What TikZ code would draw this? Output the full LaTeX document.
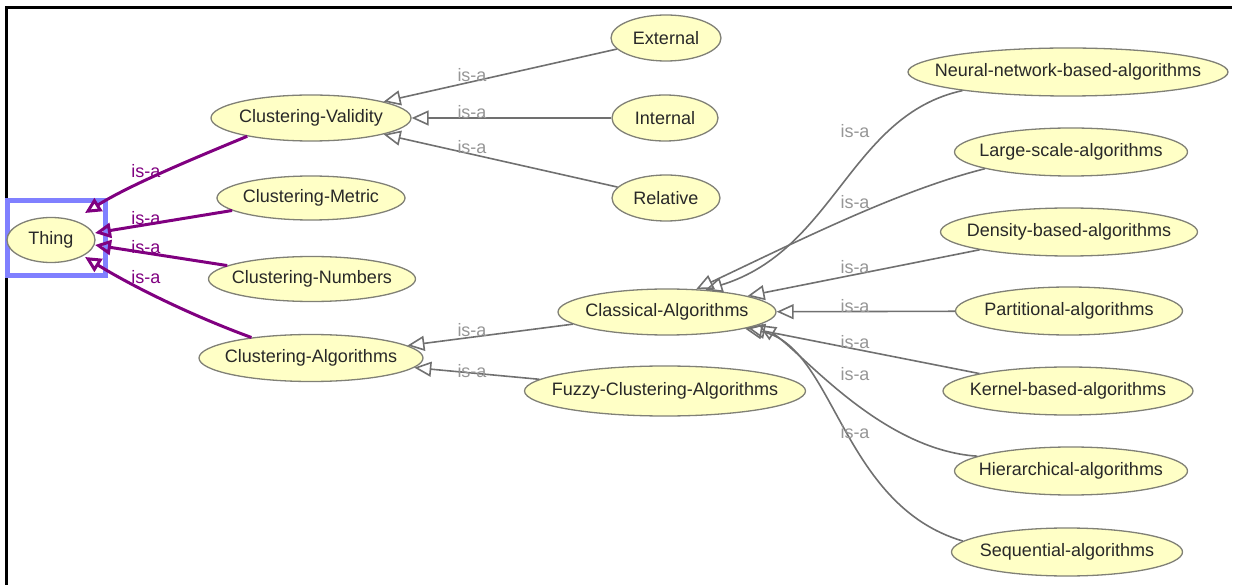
\documentclass[tikz,border=0pt]{standalone}
\usepackage{fontspec}
\setmainfont{Liberation Sans}
\usetikzlibrary{shapes.geometric,arrows.meta}
\definecolor{nodefill}{RGB}{255,255,198}
\definecolor{nodeline}{RGB}{128,128,118}
\definecolor{edgegray}{RGB}{112,112,112}
\definecolor{labgray}{RGB}{150,150,150}
\definecolor{purp}{RGB}{128,0,128}
\definecolor{boxblue}{RGB}{128,128,255}
\definecolor{txt}{RGB}{40,40,40}
\newcommand\zw[1]{\makebox[0pt]{#1}}
\begin{document}
\begin{tikzpicture}[x=1pt,y=-1pt,
  cls/.style={ellipse,draw=nodeline,line width=1.3pt,fill=nodefill,inner sep=0pt,text=txt,font=\fontsize{18}{21}\selectfont},
  isa/.style={-{Triangle[open,length=17pt,width=15pt]},draw=edgegray,line width=1.6pt},
  isap/.style={-{Triangle[open,length=16pt,width=15pt]},draw=purp,line width=3pt},
  lab/.style={text=labgray,inner sep=0pt,font=\fontsize{18}{21}\selectfont},
  labp/.style={text=purp,inner sep=0pt,font=\fontsize{18}{21}\selectfont}]
\useasboundingbox (0,0) rectangle (1235,585);
% frame
\draw[line width=3pt,black] (6,585) -- (6,8) -- (1232,8);
% selection box
\draw[boxblue,line width=5pt] (7,201) rectangle (105,276);
% nodes
\node[cls,minimum width=88pt,minimum height=45pt] (thing) at (51,240) {\zw{Thing}};
\node[cls,minimum width=200pt,minimum height=46pt] (cv) at (311,118) {\zw{Clustering-Validity}};
\node[cls,minimum width=188pt,minimum height=44pt] (cm) at (311,198) {\zw{Clustering-Metric}};
\node[cls,minimum width=207pt,minimum height=45pt] (cn) at (312,279) {\zw{Clustering-Numbers}};
\node[cls,minimum width=224pt,minimum height=47pt] (ca) at (311,358) {\zw{Clustering-Algorithms}};
\node[cls,minimum width=110pt,minimum height=46pt] (ext) at (666,38) {\zw{External}};
\node[cls,minimum width=106pt,minimum height=46pt] (int) at (665,118) {\zw{Internal}};
\node[cls,minimum width=108pt,minimum height=46pt] (rel) at (666,198) {\zw{Relative}};
\node[cls,minimum width=218pt,minimum height=46pt] (cla) at (667,312) {\zw{Classical-Algorithms}};
\node[cls,minimum width=281pt,minimum height=50pt] (fuz) at (665,391) {\zw{Fuzzy-Clustering-Algorithms}};
\node[cls,minimum width=320pt,minimum height=48pt] (nn) at (1068,72) {\zw{Neural-network-based-algorithms}};
\node[cls,minimum width=233pt,minimum height=48pt] (ls) at (1071,152) {\zw{Large-scale-algorithms}};
\node[cls,minimum width=257pt,minimum height=48pt] (db) at (1069,232) {\zw{Density-based-algorithms}};
\node[cls,minimum width=227pt,minimum height=48pt] (pa) at (1069,311) {\zw{Partitional-algorithms}};
\node[cls,minimum width=250pt,minimum height=48pt] (kb) at (1068,391) {\zw{Kernel-based-algorithms}};
\node[cls,minimum width=233pt,minimum height=48pt] (hi) at (1071,471) {\zw{Hierarchical-algorithms}};
\node[cls,minimum width=231pt,minimum height=48pt] (se) at (1067,552) {\zw{Sequential-algorithms}};
% tip coordinates at Thing
\coordinate (t1) at (85,213);
\coordinate (t2) at (95,233);
\coordinate (t3) at (95,245);
\coordinate (t4) at (85,257);
% purple edges
\draw[isap] (cv.196) .. controls (190,160) and (130,185) .. (t1);
\draw[isap] (cm.189) -- (t2);
\draw[isap] (cn.171) -- (t3);
\draw[isap] (ca.161) .. controls (190,315) and (130,285) .. (t4);
% gray edges
\draw[isa] (ext) -- (cv);
\draw[isa] (int) -- (cv);
\draw[isa] (rel) -- (cv);
\draw[isa] (cla) -- (ca);
\draw[isa] (fuz) -- (ca);
\draw[isa] (nn.190) .. controls (850,115) and (835,250) .. (cla.30);
\draw[isa] (ls.191) .. controls (900,190) and (800,240) .. (cla.38);
\draw[isa] (db) -- (cla);
\draw[isa] (pa) -- (cla);
\draw[isa] (kb) -- (cla);
\draw[isa] (hi.171) .. controls (880,450) and (800,350) .. (cla.-8);
\draw[isa] (se.174) .. controls (840,505) and (835,345) .. (cla.-12);
% labels
\node[labp] (l1) at (146,171) {is-a};
\node[labp] (l2) at (146,218) {is-a};
\node[labp] (l3) at (146,247) {is-a};
\node[labp] (l4) at (146,277) {is-a};
\node[lab] (l5) at (472,75) {is-a};
\node[lab] (l6) at (472,112) {is-a};
\node[lab] (l7) at (472,147) {is-a};
\node[lab] (l8) at (472,330) {is-a};
\node[lab] (l9) at (472,371) {is-a};
\node[lab] (l10) at (855,131) {is-a};
\node[lab] (l11) at (855,202) {is-a};
\node[lab] (l12) at (855,267) {is-a};
\node[lab] (l13) at (855,306) {is-a};
\node[lab] (l14) at (855,342) {is-a};
\node[lab] (l15) at (855,374) {is-a};
\node[lab] (l16) at (855,432) {is-a};
\end{tikzpicture}
\end{document}
